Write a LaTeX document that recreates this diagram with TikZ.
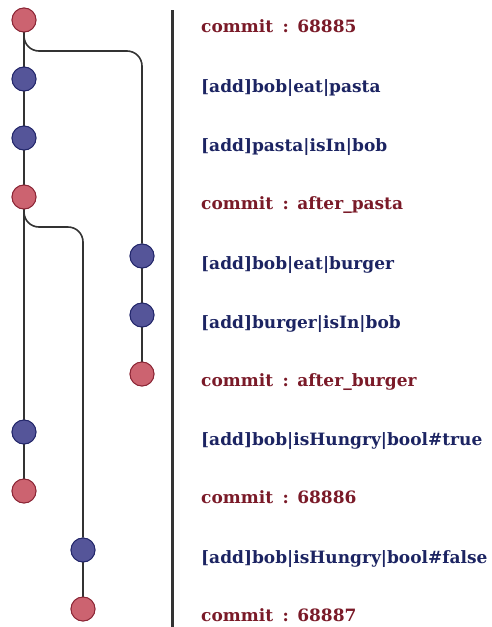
\documentclass[tikz,border=0pt]{standalone}
\usepackage{fontspec}
\setmainfont{DejaVu Serif}
\definecolor{cfill}{HTML}{CC6370}
\definecolor{cdraw}{HTML}{8B2535}
\definecolor{afill}{HTML}{555599}
\definecolor{adraw}{HTML}{22266A}
\definecolor{ctext}{HTML}{7A1A28}
\definecolor{atext}{HTML}{1C2462}
\definecolor{lgray}{HTML}{333333}
\newcommand{\cmsep}{\hspace{0.55em}:\hspace{0.5em}}
\tikzset{
  commitnode/.style={circle,draw=cdraw,fill=cfill,line width=0.9pt,minimum size=24pt,inner sep=0pt},
  addnode/.style={circle,draw=adraw,fill=afill,line width=0.9pt,minimum size=24pt,inner sep=0pt},
  ctxt/.style={anchor=base west,text=ctext,font=\fontsize{17}{19}\selectfont\bfseries,inner sep=0pt},
  atxt/.style={anchor=base west,text=atext,font=\fontsize{17}{19}\selectfont\bfseries,inner sep=0pt},
  edge/.style={draw=lgray,line width=1.6pt},
}
\begin{document}
\begin{tikzpicture}[x=1pt,y=-1pt]
\useasboundingbox (0,0) rectangle (491,627);
\coordinate (k0) at (142,51);
\coordinate (k1) at (83,227);
\node[commitnode] (n0) at (24,20) {};
\node[addnode] (n1) at (24,79) {};
\node[addnode] (n2) at (24,138) {};
\node[commitnode] (n3) at (24,197) {};
\node[addnode] (n4) at (142,256) {};
\node[addnode] (n5) at (142,315) {};
\node[commitnode] (n6) at (142,374) {};
\node[addnode] (n7) at (24,432) {};
\node[commitnode] (n8) at (24,491) {};
\node[addnode] (n9) at (83,550) {};
\node[commitnode] (n10) at (83,609) {};
\draw[edge] (n0) -- (n1);
\draw[edge] (n1) -- (n2);
\draw[edge] (n2) -- (n3);
\draw[edge] (n3) -- (n7);
\draw[edge] (n7) -- (n8);
\draw[edge,rounded corners=15pt] (n0.south) |- (k0) -- (n4.north);
\draw[edge] (n4) -- (n5);
\draw[edge] (n5) -- (n6);
\draw[edge,rounded corners=15pt] (n3.south) |- (k1) -- (n9.north);
\draw[edge] (n9) -- (n10);
\foreach \n in {n0,n3,n6,n8,n10} \node[commitnode] at (\n) {};
\foreach \n in {n1,n2,n4,n5,n7,n9} \node[addnode] at (\n) {};
\coordinate (vt) at (172,10);
\coordinate (vb) at (172,627);
\draw[draw=lgray,line width=3pt] (vt) -- (vb);
\node[ctxt] (t0) at (201,32.5) {commit\cmsep 68885};
\node[atxt] (t1) at (201,92) {[add]bob|eat|pasta};
\node[atxt] (t2) at (201,151) {[add]pasta|isIn|bob};
\node[ctxt] (t3) at (201,209.5) {commit\cmsep after\_pasta};
\node[atxt] (t4) at (201,269) {[add]bob|eat|burger};
\node[atxt] (t5) at (201,328) {[add]burger|isIn|bob};
\node[ctxt] (t6) at (201,386.5) {commit\cmsep after\_burger};
\node[atxt] (t7) at (201,445) {[add]bob|isHungry|bool\#true};
\node[ctxt] (t8) at (201,503.5) {commit\cmsep 68886};
\node[atxt] (t9) at (201,563) {[add]bob|isHungry|bool\#false};
\node[ctxt] (t10) at (201,621.5) {commit\cmsep 68887};
\end{tikzpicture}
\end{document}
